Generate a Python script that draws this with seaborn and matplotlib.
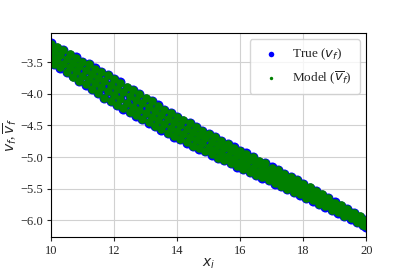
import numpy as np
import pandas as pd
import matplotlib
matplotlib.use("Agg")
import matplotlib.pyplot as plt
import seaborn as sns


# =========================
# Data (row by row)
# =========================

# upper edge of the band
x_top = [10.0, 10.2, 10.4, 10.6, 10.8, 11.0, 11.2, 11.4, 11.6, 11.8,
         12.0, 12.2, 12.4, 12.6, 12.8, 13.0, 13.2, 13.4, 13.6, 13.8,
         14.0, 14.2, 14.4, 14.6, 14.8, 15.0, 15.2, 15.4, 15.6, 15.8,
         16.0, 16.2, 16.4, 16.6, 16.8, 17.0, 17.2, 17.4, 17.6, 17.8,
         18.0, 18.2, 18.4, 18.6, 18.8, 19.0, 19.2, 19.4, 19.6, 19.8, 20.0]
v_top = [-3.20, -3.27, -3.31, -3.38, -3.42, -3.50, -3.53, -3.59, -3.66, -3.70,
         -3.77, -3.82, -3.90, -3.94, -4.00, -4.08, -4.12, -4.18, -4.26, -4.30,
         -4.36, -4.43, -4.46, -4.52, -4.59, -4.63, -4.68, -4.75, -4.79, -4.84,
         -4.91, -4.94, -5.00, -5.07, -5.10, -5.16, -5.21, -5.27, -5.31, -5.37,
         -5.42, -5.49, -5.53, -5.60, -5.65, -5.71, -5.77, -5.82, -5.88, -5.94, -5.99]
m_top = [-3.21, -3.26, -3.31, -3.37, -3.43, -3.49, -3.53, -3.60, -3.65, -3.70,
         -3.76, -3.83, -3.89, -3.94, -4.01, -4.07, -4.12, -4.19, -4.25, -4.30,
         -4.37, -4.42, -4.46, -4.53, -4.58, -4.63, -4.69, -4.74, -4.79, -4.85,
         -4.90, -4.95, -5.00, -5.06, -5.10, -5.17, -5.21, -5.26, -5.32, -5.37,
         -5.43, -5.48, -5.53, -5.59, -5.65, -5.72, -5.76, -5.82, -5.89, -5.93, -5.99]

# second row
x_um = [10.1, 10.3, 10.5, 10.7, 10.9, 11.1, 11.3, 11.5, 11.7, 11.9,
        12.1, 12.3, 12.5, 12.7, 12.9, 13.1, 13.3, 13.5, 13.7, 13.9,
        14.1, 14.3, 14.5, 14.7, 14.9, 15.1, 15.3, 15.5, 15.7, 15.9,
        16.1, 16.3, 16.5, 16.7, 16.9, 17.1, 17.3, 17.5, 17.7, 17.9,
        18.1, 18.3, 18.5, 18.7, 18.9, 19.1, 19.3, 19.5, 19.7, 19.9]
v_um = [-3.33, -3.38, -3.45, -3.50, -3.57, -3.62, -3.69, -3.74, -3.81, -3.86,
        -3.92, -3.97, -4.04, -4.09, -4.16, -4.21, -4.28, -4.33, -4.39, -4.44,
        -4.50, -4.55, -4.60, -4.65, -4.71, -4.75, -4.81, -4.86, -4.91, -4.96,
        -5.01, -5.06, -5.11, -5.16, -5.21, -5.26, -5.31, -5.36, -5.41, -5.46,
        -5.52, -5.57, -5.62, -5.68, -5.73, -5.78, -5.84, -5.89, -5.95, -6.00]
m_um = [-3.32, -3.39, -3.45, -3.51, -3.56, -3.62, -3.68, -3.75, -3.80, -3.86,
        -3.93, -3.97, -4.03, -4.09, -4.15, -4.21, -4.27, -4.33, -4.40, -4.44,
        -4.49, -4.55, -4.61, -4.65, -4.70, -4.76, -4.81, -4.85, -4.91, -4.97,
        -5.01, -5.05, -5.11, -5.17, -5.21, -5.25, -5.31, -5.37, -5.41, -5.45,
        -5.52, -5.58, -5.62, -5.67, -5.73, -5.79, -5.84, -5.88, -5.95, -6.01]

# third row
x_lm = x_top
v_lm = [-3.39, -3.45, -3.53, -3.58, -3.65, -3.70, -3.78, -3.83, -3.90, -3.96,
        -4.03, -4.07, -4.14, -4.19, -4.26, -4.30, -4.37, -4.42, -4.49, -4.53,
        -4.59, -4.63, -4.69, -4.73, -4.79, -4.83, -4.89, -4.93, -4.99, -5.03,
        -5.08, -5.12, -5.18, -5.22, -5.27, -5.31, -5.37, -5.40, -5.46, -5.50,
        -5.56, -5.60, -5.66, -5.70, -5.76, -5.81, -5.86, -5.91, -5.96, -6.01, -6.06]
m_lm = [-3.40, -3.45, -3.52, -3.58, -3.64, -3.71, -3.77, -3.83, -3.89, -3.96,
        -4.02, -4.08, -4.14, -4.20, -4.25, -4.31, -4.36, -4.42, -4.48, -4.54,
        -4.59, -4.64, -4.68, -4.73, -4.78, -4.84, -4.88, -4.94, -4.98, -5.03,
        -5.09, -5.12, -5.17, -5.23, -5.27, -5.32, -5.36, -5.41, -5.46, -5.51,
        -5.55, -5.61, -5.65, -5.71, -5.75, -5.81, -5.87, -5.90, -5.96, -6.02, -6.05]

# lower edge of the band
x_bot = [10.0, 10.1, 10.3, 10.5, 10.7, 10.9, 11.1, 11.3, 11.5, 11.7, 11.9,
         12.1, 12.3, 12.5, 12.7, 12.9, 13.1, 13.3, 13.5, 13.7, 13.9,
         14.1, 14.3, 14.5, 14.7, 14.9, 15.1, 15.3, 15.5, 15.7, 15.9,
         16.1, 16.3, 16.5, 16.7, 16.9, 17.1, 17.3, 17.5, 17.7, 17.9,
         18.1, 18.3, 18.5, 18.7, 18.9, 19.1, 19.3, 19.5, 19.7, 19.9, 20.0]
v_bot = [-3.49, -3.52, -3.59, -3.66, -3.72, -3.79, -3.86, -3.93, -3.99, -4.06, -4.12,
         -4.18, -4.24, -4.29, -4.35, -4.40, -4.46, -4.51, -4.57, -4.62, -4.68,
         -4.72, -4.77, -4.82, -4.87, -4.91, -4.96, -5.01, -5.05, -5.10, -5.15,
         -5.19, -5.24, -5.28, -5.33, -5.37, -5.42, -5.46, -5.51, -5.55, -5.60,
         -5.64, -5.69, -5.74, -5.79, -5.84, -5.88, -5.93, -5.98, -6.03, -6.08, -6.10]
m_bot = [-3.48, -3.52, -3.58, -3.66, -3.73, -3.79, -3.85, -3.93, -3.98, -4.06, -4.11,
         -4.18, -4.23, -4.29, -4.34, -4.40, -4.45, -4.51, -4.56, -4.62, -4.67,
         -4.72, -4.76, -4.82, -4.86, -4.91, -4.95, -5.01, -5.04, -5.10, -5.14,
         -5.19, -5.23, -5.28, -5.32, -5.37, -5.41, -5.46, -5.50, -5.55, -5.59,
         -5.64, -5.68, -5.74, -5.78, -5.84, -5.87, -5.93, -5.97, -6.03, -6.07, -6.09]

df = pd.DataFrame({
    "x": x_top + x_um + x_lm + x_bot,
    "true": v_top + v_um + v_lm + v_bot,
    "model": m_top + m_um + m_lm + m_bot,
})

# =========================
# Plot
# =========================

sns.set_style("ticks", {"axes.grid": True, "grid.color": ".82",
                        "axes.edgecolor": "black"})
plt.rcParams["font.family"] = ["Liberation Serif", "DejaVu Serif"]
plt.rcParams["mathtext.fontset"] = "dejavusans"

fig, ax = plt.subplots(figsize=(4.07, 2.71), dpi=100)
fig.subplots_adjust(left=0.125, right=0.9, top=0.88, bottom=0.124)

sns.scatterplot(data=df, x="x", y="true", ax=ax, color="blue", s=52,
                linewidth=0, label=r"True ($v_f$)")
sns.scatterplot(data=df, x="x", y="model", ax=ax, color="green", s=38,
                linewidth=0, label=r"Model ($\overline{v}_f$)")

ax.set_xlim(10, 20)
ax.set_ylim(-6.27, -3.03)
ax.set_xticks([10, 12, 14, 16, 18, 20])
ax.set_yticks([-3.5, -4.0, -4.5, -5.0, -5.5, -6.0])
ax.tick_params(labelsize=9, length=3, width=0.8, pad=2.5)
ax.set_xlabel(r"$x_i$", fontsize=10, labelpad=0)
ax.set_ylabel(r"$v_f$, $\overline{v}_f$", fontsize=10, labelpad=1)
for sp in ax.spines.values():
    sp.set_linewidth(0.8)

leg = ax.legend(loc="upper right", fontsize=9.5, frameon=True,
                borderpad=0.6, handletextpad=0.6)
leg.legend_handles[0].set_sizes([16])
leg.legend_handles[1].set_sizes([6])

fig.savefig("out.png", dpi=100)
